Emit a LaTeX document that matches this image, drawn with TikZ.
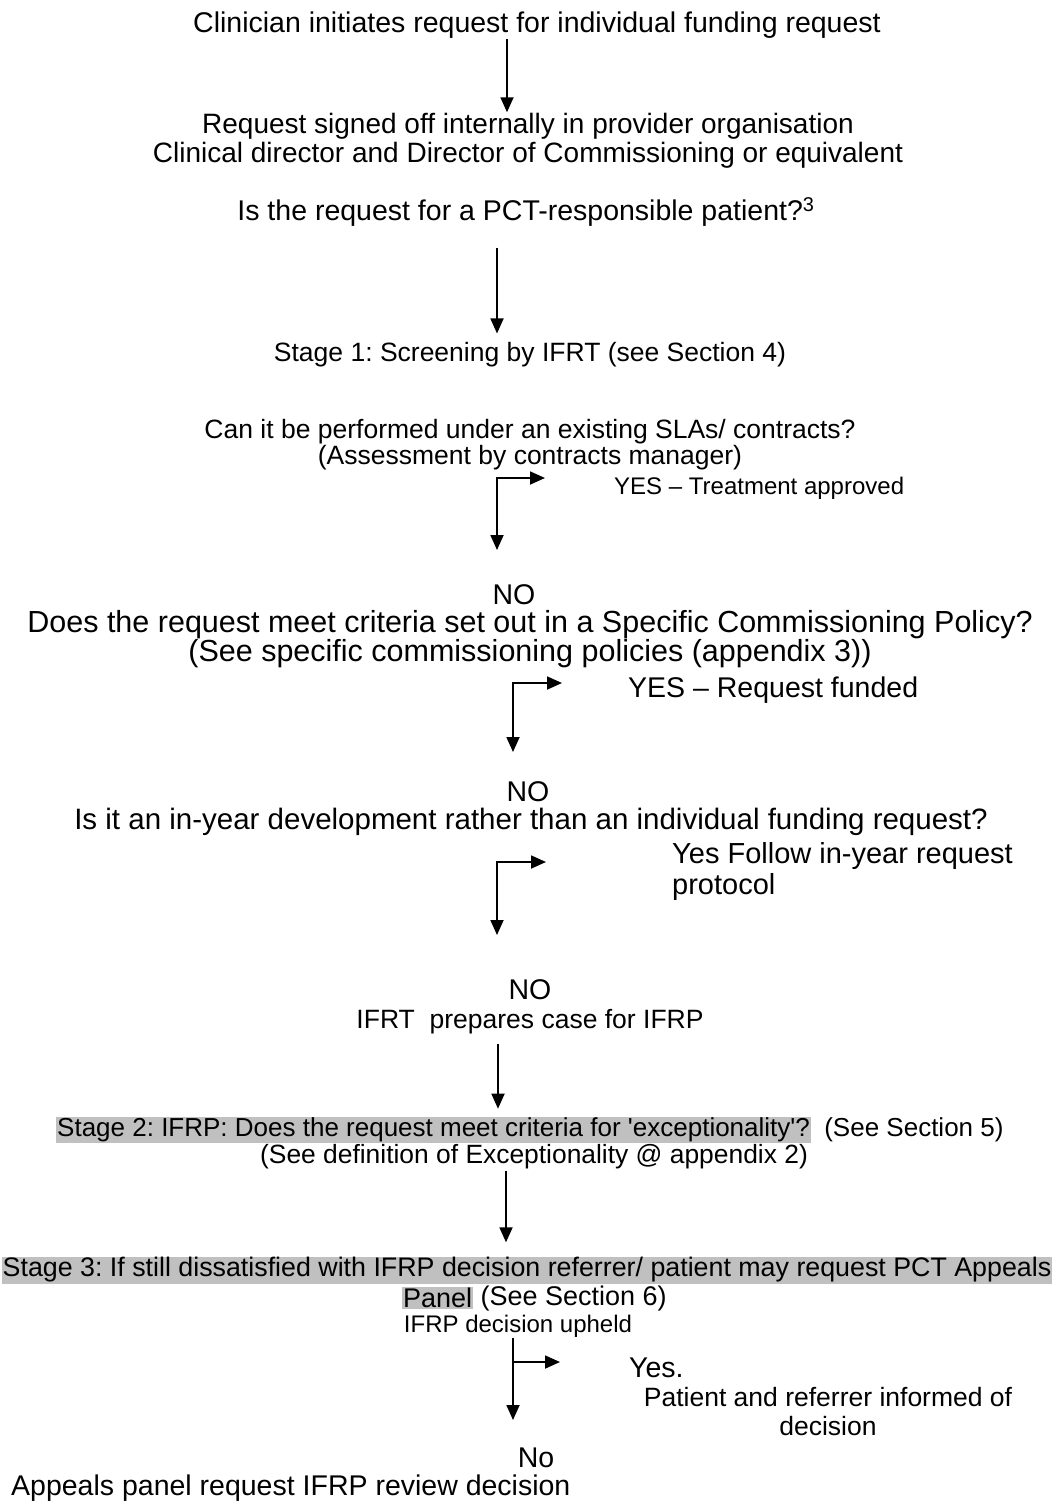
\documentclass[tikz,border=0pt]{standalone}
\usepackage{fontspec}
\setmainfont{Liberation Sans}
\usetikzlibrary{arrows.meta,positioning}
\definecolor{hilite}{RGB}{192,192,192}

\begin{document}
\frenchspacing
\begin{tikzpicture}[x=1pt,y=-1pt,font=\fontsize{28.5}{29}\selectfont]
\tikzset{
% Node styles: plain flow text, larger, smaller and grey highlighted text
flow text/.style={inner sep=1pt,align=center},
big text/.style={flow text,font=\fontsize{30.5}{29}\selectfont},
small text/.style={flow text,font=\fontsize{26.5}{26}\selectfont},
tiny text/.style={flow text,font=\fontsize{24}{25}\selectfont},
marked/.style={fill=hilite},
flow/.style={-{Triangle[width=13pt,length=15pt]},line width=1.8pt},
fork/.style={{Triangle[width=13pt,length=15pt]}-{Triangle[width=13pt,length=15pt]},line width=1.8pt}
}
\useasboundingbox (0,0) rectangle (1058,1508);

% The requests, from top to bottom
\node(start)[flow text] at (537,25) {Clinician initiates request for individual funding request};
\node(signoff)[flow text,font=\fontsize{28}{29}\selectfont] at (528,141) {Request signed off internally in provider organisation\\Clinical director and Director of Commissioning or equivalent};
\node(pct)[flow text] at (526,212) {Is the request for a PCT-responsible patient?\textsuperscript{3}};
\node(stageone)[small text] at (530,355) {Stage 1: Screening by IFRT (see Section 4)};
\node(slas)[small text] at (530,445) {Can it be performed under an existing SLAs/ contracts?\\(Assessment by contracts manager)};
\node(yes1)[tiny text,anchor=west] at (613,488) {YES \textendash{} Treatment approved};
\node(no1)[flow text] at (514,595) {NO};
\node(policy)[big text] at (530,639) {Does the request meet criteria set out in a Specific Commissioning Policy?\\(See specific commissioning policies (appendix 3))};
\node(yes2)[flow text,anchor=west] at (627,690) {YES \textendash{} Request funded};
\node(no2)[flow text] at (528,792) {NO};
\node(inyear)[flow text,font=\fontsize{29.5}{29}\selectfont] at (531,822) {Is it an in-year development rather than an individual funding request?};
\node(yes3)[flow text,anchor=west,align=left,font=\fontsize{29}{31}\selectfont] at (671,871) {Yes Follow in-year request\\protocol};
\node(no3)[flow text] at (530,990) {NO};
\node(ifrt)[small text] at (530,1022) {IFRT\ \ prepares case for IFRP};
\node(stagetwo)[flow text,marked,anchor=west,font=\fontsize{26}{26}\selectfont] at (56,1130) {Stage 2: IFRP: Does the request meet criteria for \textquotesingle exceptionality\textquotesingle?};
\node(secfive)[flow text,right=12pt of stagetwo,font=\fontsize{26}{26}\selectfont] {(See Section 5)};
\node(exceptdef)[flow text,font=\fontsize{26.4}{27}\selectfont] at (534,1157) {(See definition of Exceptionality @ appendix 2)};
\node(stagethree)[flow text,marked,font=\fontsize{26.8}{28}\selectfont] at (527,1270) {Stage 3: If still dissatisfied with IFRP decision referrer/ patient may request PCT Appeals};
\node(panel)[flow text,marked,anchor=west,font=\fontsize{27}{28}\selectfont] at (402,1298) {Panel};
\node(secsix)[flow text,right=6pt of panel,font=\fontsize{27}{28}\selectfont] {(See Section 6)};
\node(upheld)[tiny text] at (518,1326) {IFRP decision upheld};
\node(yes4)[flow text,anchor=west] at (628,1368) {Yes.};
\node(informed)[small text,font=\fontsize{26.5}{29}\selectfont] at (828,1412) {Patient and referrer informed of\\decision};
\node(no4)[flow text] at (536,1458) {No};
\node(appeals)[flow text,anchor=west] at (10,1488) {Appeals panel request IFRP review decision};

% Arrow columns and branch points
\coordinate(col1) at (507,0);
\coordinate(col2) at (497,0);
\coordinate(col3) at (498,0);
\coordinate(col4) at (506,0);
\coordinate(yes1tip) at (545,478);
\coordinate(no1tip) at (497,550);
\coordinate(yes2tip) at (562,683);
\coordinate(no2tip) at (513,752);
\coordinate(yes3tip) at (546,862);
\coordinate(no3tip) at (497,935);
\coordinate(split) at (513,1362);
\coordinate(yes4tip) at (560,1362);
\coordinate(no4tip) at (513,1420);

% Connectors
\draw[flow] (start.south -| col1) -- (signoff.north -| col1);
\draw[flow,shorten <=20pt,shorten >=8pt] (pct.south -| col2) -- (stageone.north -| col2);
\draw[fork] (yes1tip) -| (no1tip);
\draw[fork] (yes2tip) -| (no2tip);
\draw[fork] (yes3tip) -| (no3tip);
\draw[flow,shorten <=8pt,shorten >=8pt] (ifrt.south -| col3) -- (stagetwo.north -| col3);
\draw[flow,shorten >=14pt] (exceptdef.south -| col4) -- (stagethree.north -| col4);
\draw[flow] (upheld.south -| split) -- (no4tip);
\draw[flow] (split) -- (yes4tip);

\end{tikzpicture}
\end{document}
